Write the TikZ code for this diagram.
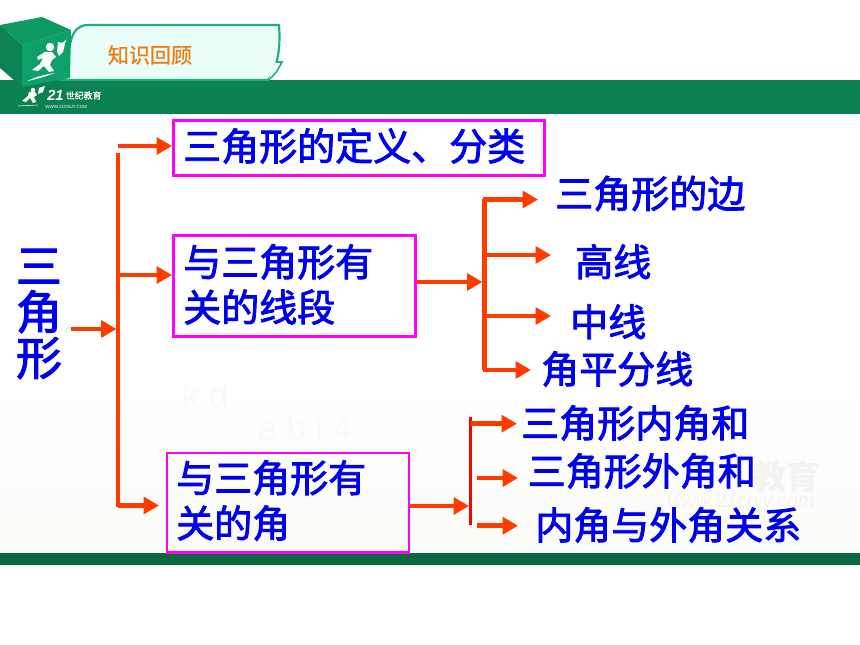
\documentclass[tikz,border=0pt]{standalone}
\usepackage{fontspec}
\setmainfont{Liberation Sans}
\newfontfamily\cjk{Noto Sans CJK SC}
\newfontfamily\cjkfb[FakeBold=2.2]{Noto Sans CJK SC}
\newfontfamily\cjkfc[FakeBold=0.7]{Noto Sans CJK SC}
\usetikzlibrary{arrows.meta,positioning,calc}
\definecolor{bandgreen}{HTML}{0B8050}
\definecolor{darkband}{HTML}{0A6840}
\definecolor{tabfill}{HTML}{EAFDF8}
\definecolor{tabline}{HTML}{1DB07A}
\definecolor{arrowred}{HTML}{FF3C00}
\definecolor{purebox}{HTML}{FF00FF}
\definecolor{txtblue}{HTML}{0000F0}
\definecolor{orangetxt}{HTML}{EE7A10}
\definecolor{wm}{HTML}{F3F4F2}
\definecolor{wmf}{HTML}{FAFAFA}
\definecolor{cubeleft}{HTML}{0A8252}
\definecolor{cubefront}{HTML}{0DA068}
\definecolor{cubetop}{HTML}{0C9A62}
\definecolor{pagebot}{HTML}{FBFBF8}
\tikzset{
  lbl/.style={font=\cjkfb\fontsize{28.5}{34}\selectfont, text=txtblue, inner sep=0pt, align=left},
  boxnode/.style={draw=purebox, line width=2.2pt, inner sep=0pt, anchor=north west},
  conn/.style={draw=arrowred, line width=3.6pt, -{Triangle[length=11.5pt,width=12.5pt]}, shorten >=0pt},
  trunk/.style={draw=arrowred, line width=3.6pt},
  thintrunk/.style={draw=red, line width=2.3pt},
}
\begin{document}
\begin{tikzpicture}[x=0.75pt,y=-0.75pt]
\useasboundingbox (0,0) rectangle (860,645);
\fill[white] (0,0) rectangle (860,645);
% page background
\shade[top color=white, bottom color=pagebot] (0,380) rectangle (860,553);
% watermark
\node[font=\cjk\bfseries\fontsize{25}{25}\selectfont, text=wm, inner sep=0pt, anchor=east] (wma) at (820,477) {教育};
\node[font=\fontsize{15}{15}\selectfont\itshape, text=wm, inner sep=0pt, anchor=east] (wmb) at (815,502) {www.21cnjy.com};
\node[font=\fontsize{26}{26}\selectfont, text=wmf, inner sep=0pt] (wmc) at (205,395) {k d};
\node[font=\fontsize{26}{26}\selectfont, text=wmf, inner sep=0pt] (wmd) at (305,428) {a b i 4};
% bands
\fill[bandgreen] (0,80) rectangle (860,114);
\fill[darkband] (0,553) rectangle (860,565);
% tab
\draw[tabline, line width=1.6pt, fill=tabfill] (60,80) -- (70,45) .. controls (72,32) and (78,25) .. (88,25) -- (279,25)
  .. controls (281,50) and (277,68) .. (268,80) -- cycle;
\draw[tabline, line width=1.2pt, fill=white] (268,80) .. controls (274,76) and (278,70) .. (282,62) -- (276,62);
% cube
\fill[cubeleft] (0,25) -- (22,45) -- (22,87) -- (0,68) -- cycle;
\fill[cubefront] (22,45) -- (71,30) -- (70,78) -- (22,87) -- cycle;
\fill[cubetop] (0,25) -- (42,17) -- (71,30) -- (22,45) -- cycle;
% runner
\fill[white] (50,47) circle (4.2);
\fill[white] (45,52) -- (52,52) -- (56,57) -- (52,60) -- (50,65) -- (54,71) -- (49,72) -- (44,66) -- (38,71) -- (32,70)
  -- (40,64) -- (43,58) -- (38,60) -- (37,57) -- cycle;
\fill[white] (57,52) -- (58,42) -- (62,43) -- (66,40) -- (63,52) -- (59,56) -- cycle;
\fill[white] (27,81) .. controls (38,76) and (48,74) .. (55,73) .. controls (47,76) and (38,79) .. (27,81) -- cycle;
% small logo
\fill[white] (33,90) circle (2.2);
\fill[white] (29,92) -- (35,92) -- (37,95) -- (34,97) -- (36,102) -- (33,103) -- (30,98) -- (26,102) -- (22,101) -- (28,96) -- cycle;
\fill[white] (38,94) -- (39,88) -- (45,86) -- (43,92) -- cycle;
\draw[white, line width=0.4pt] (18,106) -- (38,105);
\node[font=\bfseries\itshape\fontsize{11}{11}\selectfont, text=white, inner sep=0pt, anchor=west] (lg) at (47,95.5) {21};
\node[font=\cjkfc\fontsize{6.7}{7}\selectfont, text=white, inner sep=0pt, anchor=west] (lgb) at (65.5,95.5) {世纪教育};
\node[font=\fontsize{3.4}{4}\selectfont, text=white, inner sep=0pt, anchor=west] (lgc) at (45,106.5) {WWW.21CNJY.COM};
\node[font=\cjkfc\fontsize{15.8}{16}\selectfont, text=orangetxt, inner sep=0pt] (title) at (150,55) {知识回顾};
% main node
\node[lbl, font=\cjkfb\fontsize{34.5}{34.5}\selectfont, align=center] (root) at (39,314) {三\\角\\形};
% boxes
\node[boxnode, minimum width=278.2pt, minimum height=40.7pt] (b1) at (172,119.5) {};
\node[boxnode, minimum width=181.5pt, minimum height=75.5pt] (b2) at (172,234.5) {};
\node[boxnode, minimum width=181.5pt, minimum height=74.5pt] (b3) at (165.5,451.5) {};
\node[lbl, anchor=west] (t1) at (183,146) {三角形的定义、分类};
\node[lbl, anchor=west] (t2) at (183,284.5) {与三角形有\\关的线段};
\node[lbl, anchor=west] (t3) at (176,500.5) {与三角形有\\关的角};
% right labels
\node[lbl, anchor=west] (r1) at (555,193.5) {三角形的边};
\node[lbl, anchor=west] (r2) at (575,261.7) {高线};
\node[lbl, anchor=west] (r3) at (570,321.7) {中线};
\node[lbl, anchor=west] (r4) at (541,369) {角平分线};
\node[lbl, anchor=west] (s1) at (521,423) {三角形内角和};
\node[lbl, anchor=west] (s2) at (527.5,471) {三角形外角和};
\node[lbl, anchor=west] (s3) at (535,525) {内角与外角关系};
% junction coordinates
\coordinate (ja) at (118,153);
\coordinate (jb) at (118,507);
\coordinate (jm) at (116.5,329);
\coordinate (ra) at (118,146);
\coordinate (rb) at (120,275);
\coordinate (rc) at (118,505.5);
\coordinate (ma) at (484.5,199);
\coordinate (mb) at (484.5,370);
\coordinate (ta) at (470.5,417);
\coordinate (tb) at (470.5,525);
% connectors
\draw[trunk] (ja) -- (jb);
\draw[conn] (71,329) -- (jm);
\draw[conn] (ra) -- (ra -| b1.west);
\draw[conn] (rb) -- (rb -| b2.west);
\draw[conn] (rc) -- (159,505.5);
\draw[trunk] (mb) -- (ma);
\draw[conn] (b2.east |- 0,282) -- (482.5,282);
\draw[conn] (482.5,199.5) -- (538,199.5);
\draw[conn] (484.5,255) -- (551,255);
\draw[conn] (484.5,316) -- (551,316);
\draw[conn] (482.5,370) -- (531,370);
\draw[thintrunk] (ta) -- (tb);
\draw[conn] (b3.east |- 0,506) -- (469,506);
\draw[conn] (471,423.7) -- (517,423.7);
\draw[conn] (477,478) -- (518,478);
\draw[conn] (477,525.7) -- (518,525.7);
\end{tikzpicture}
\end{document}
